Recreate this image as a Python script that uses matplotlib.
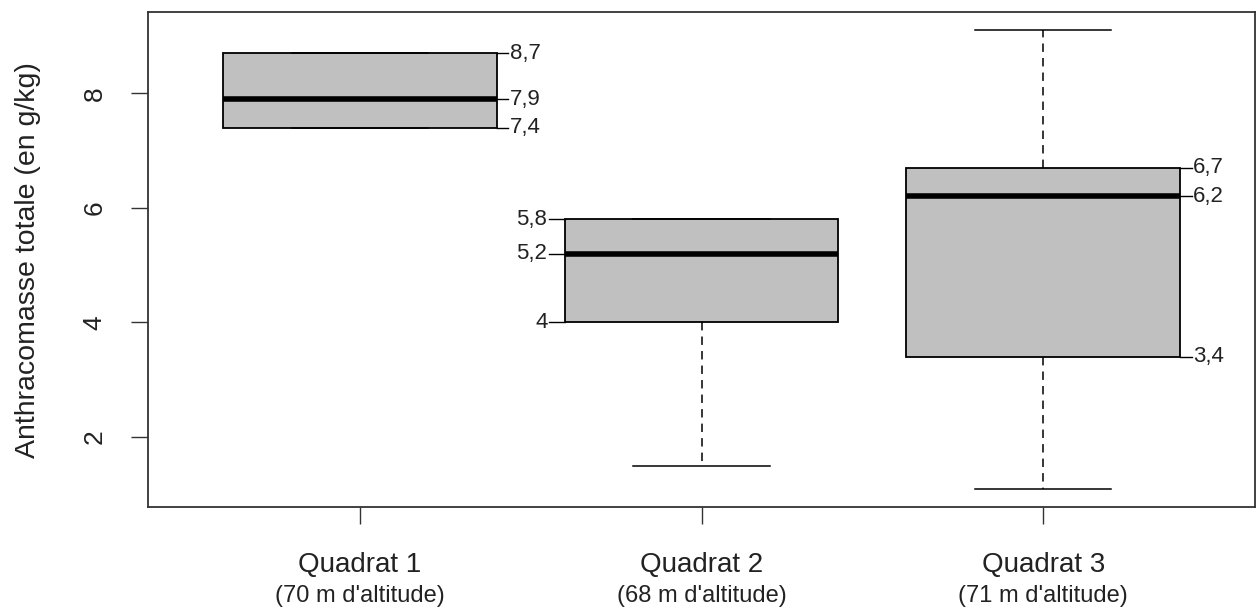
import matplotlib
matplotlib.use('Agg')
import matplotlib.pyplot as plt
from matplotlib.transforms import blended_transform_factory

plt.rcParams['font.family'] = ['Liberation Sans', 'DejaVu Sans']

# box statistics
quadrats = ['Quadrat 1', 'Quadrat 2', 'Quadrat 3']
altitudes = ["(70 m d'altitude)", "(68 m d'altitude)", "(71 m d'altitude)"]
wmin = [7.4, 1.5, 1.1]
q1 = [7.4, 4.0, 3.4]
med = [7.9, 5.2, 6.2]
q3 = [8.7, 5.8, 6.7]
wmax = [8.7, 5.8, 9.1]
# which side the value labels go on
label_side = ['right', 'left', 'right']

stats = []
for i in range(3):
    stats.append({'whislo': wmin[i], 'q1': q1[i], 'med': med[i],
                  'q3': q3[i], 'whishi': wmax[i], 'fliers': []})

fig = plt.figure(figsize=(12.6, 6.14), dpi=100)
ax = fig.add_axes([0.1175, 0.1743, 0.8785, 0.8062])

ax.bxp(stats, positions=[1, 2, 3], widths=0.8, patch_artist=True,
       boxprops=dict(facecolor='#c0c0c0', edgecolor='black', linewidth=1.3),
       medianprops=dict(color='black', linewidth=4, solid_capstyle='butt'),
       whiskerprops=dict(color='black', linestyle=(0, (5.5, 4)), linewidth=1.1),
       capprops=dict(color='black', linewidth=1.1),
       capwidths=0.4, showfliers=False)

ax.set_xlim(0.38, 3.62)
ax.set_ylim(0.78, 9.42)
ax.set_yticks([2, 4, 6, 8])
ax.set_yticklabels(['2', '4', '6', '8'], rotation=90, va='center', fontsize=19, color='#222222')
ax.tick_params(axis='y', length=12, width=1, pad=18, color='#333333')
ax.set_xticks([1, 2, 3])
ax.set_xticklabels([])
ax.tick_params(axis='x', length=12, width=1, color='#333333')
for s in ax.spines.values():
    s.set_linewidth(1.3)
    s.set_color('#333333')

fig.text(28 / 1260, 1 - 260 / 614, 'Anthracomasse totale (en g/kg)', rotation=90,
         ha='center', va='center', fontsize=20.5, color='#222222')

trans = blended_transform_factory(ax.transData, fig.transFigure)
for i in range(3):
    ax.text(i + 1, 1 - 572 / 614, quadrats[i], transform=trans, ha='center', va='baseline',
            fontsize=20, color='#222222')
    ax.text(i + 1, 1 - 602 / 614, altitudes[i], transform=trans, ha='center', va='baseline',
            fontsize=17, color='#222222')

# value labels next to the boxes
for i in range(3):
    vals = [q3[i], med[i], q1[i]]
    if label_side[i] == 'right':
        x0 = i + 1 + 0.4
        x1 = x0 + 0.035
        for v in vals:
            ax.plot([x0, x1], [v, v], color='black', linewidth=1)
            ax.text(x1 + 0.004, v, ('%g' % v).replace('.', ','), ha='left', va='center',
                    fontsize=16, color='#222222')
    else:
        x0 = i + 1 - 0.4
        x1 = x0 - 0.045
        for v in vals:
            ax.plot([x1, x0], [v, v], color='black', linewidth=1)
            ax.text(x1 - 0.006, v, ('%g' % v).replace('.', ','), ha='right', va='center',
                    fontsize=16, color='#222222')

fig.savefig('out.png', dpi=100)
